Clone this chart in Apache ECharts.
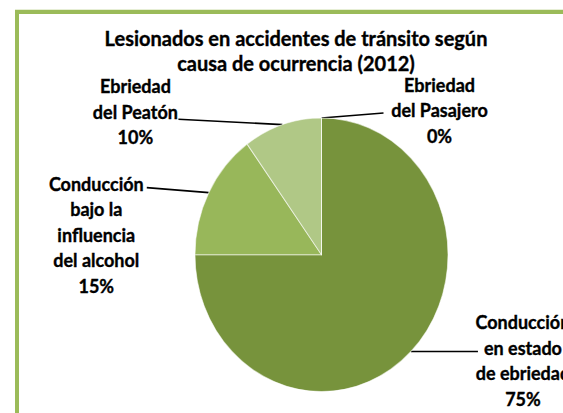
<!DOCTYPE html>
<html><head><meta charset="utf-8">
<script src="https://cdn.jsdelivr.net/npm/echarts@6/dist/echarts.min.js"></script>
<style>
html,body{margin:0;padding:0;background:#fff;overflow:hidden;width:563px;height:413px}
#wrap{width:563px;height:413px;overflow:hidden;position:relative;background:#fff}
#chart{width:563px;height:382px;transform:scaleY(1.0812);transform-origin:0 0}
</style></head><body>
<div id="wrap"><div id="chart"></div></div>
<script>
// ---- data ----
const titleLines = ['Lesionados en accidentes de tránsito según', 'causa de ocurrencia (2012)'];
const categories = [
  'Conducción en estado de ebriedad',
  'Conducción bajo la influencia del alcohol',
  'Ebriedad del Peatón',
  'Ebriedad del Pasajero'
];
const labelLines = [
  ['Conducción', 'en estado', 'de ebriedad'],
  ['Conducción', 'bajo la', 'influencia', 'del alcohol'],
  ['Ebriedad', 'del Peatón'],
  ['Ebriedad', 'del Pasajero']
];
const values = [75, 15, 10, 0];

// ---- styling ----
const colors = ['#77933C', '#98B75A', '#B0C886', '#C4D6A0'];
// leader line vector (from slice edge) and label-centre offset from line end
const leader = [
  { line: [67, 0],      text: [45, 8] },
  { line: [-62, -4.6],  text: [-50.5, 43.5] },
  { line: [-104, -5],   text: [-43, -7] },
  { line: [62, -4.6],   text: [56, -3] }
];
const FONT = 'Lato, "Open Sans", sans-serif';

const chart = echarts.init(document.getElementById('chart'), null, { renderer: 'svg' });
chart.setOption({
  animation: false,
  backgroundColor: '#fff',
  title: {
    text: titleLines.join('\n'),
    left: 296,
    top: 22.6,
    padding: 0,
    textAlign: 'center',
    textStyle: { fontFamily: FONT, fontWeight: 'bold', fontSize: 20, lineHeight: 23.2, color: '#000',
      textBorderColor: '#000', textBorderWidth: 0.35 }
  },
  graphic: [{
    type: 'rect',
    shape: { x: 17, y: 11, width: 700, height: 600 },
    style: { fill: 'none', stroke: '#9BBB59', lineWidth: 4 },
    silent: true
  }],
  series: [{
    type: 'pie',
    center: [321.5, 235.6],
    radius: 126.5,
    startAngle: 90,
    clockwise: true,
    avoidLabelOverlap: false,
    data: categories.map((c, i) => ({ name: c, value: values[i], itemStyle: { color: colors[i] } })),
    itemStyle: { borderColor: 'rgba(255,255,255,0.55)', borderWidth: 1 },
    label: {
      show: true,
      position: 'outside',
      fontFamily: FONT,
      fontWeight: 'bold',
      fontSize: 18,
      lineHeight: 23.6,
      color: '#000',
      textBorderColor: '#000',
      textBorderWidth: 0.35,
      formatter: p => labelLines[p.dataIndex].join('\n') + '\n' + Math.round(p.percent) + '%'
    },
    labelLine: { show: true, length: 0, length2: 0, smooth: false, lineStyle: { color: '#000', width: 1.5 } },
    labelLayout: function (p) {
      const L = leader[p.dataIndex];
      const e = p.labelLinePoints[0];
      const end = [e[0] + L.line[0], e[1] + L.line[1]];
      return {
        x: end[0] + L.text[0],
        y: end[1] + L.text[1],
        align: 'center',
        verticalAlign: 'middle',
        labelLinePoints: [e, end, end]
      };
    },
    emphasis: { disabled: true }
  }]
});
</script>
</body></html>
